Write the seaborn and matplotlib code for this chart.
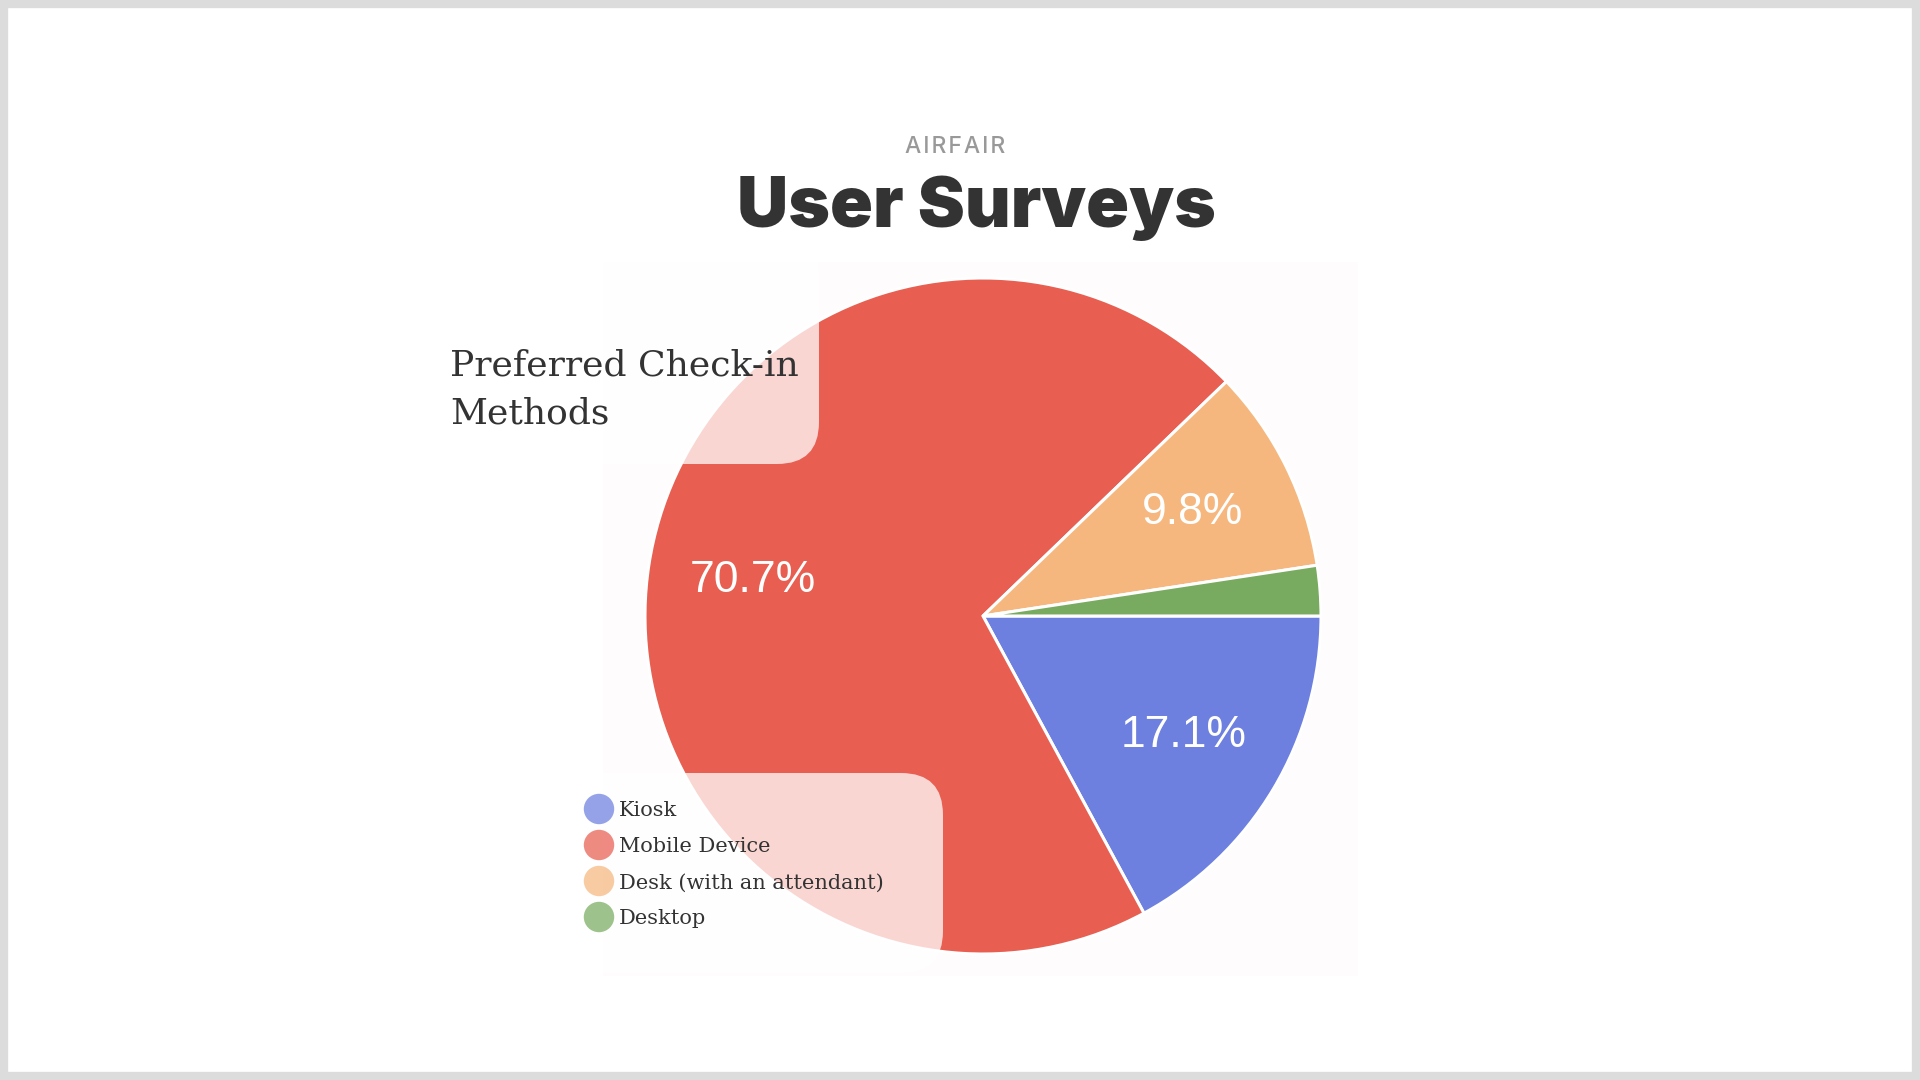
import matplotlib
matplotlib.use("Agg")
import matplotlib.pyplot as plt
import seaborn as sns
from matplotlib.patches import FancyBboxPatch, Rectangle

# data
methods = ["Kiosk", "Mobile Device", "Desk (with an attendant)", "Desktop"]
shares = [17.1, 70.7, 9.8, 2.4]
colors = ["#6d7fdf", "#e85e51", "#f6b77f", "#78ab5f"]

sns.set_theme(style="white")
plt.rcParams['font.family'] = ['DejaVu Sans']

W, H = 1920, 1080
fig = plt.figure(figsize=(19.2, 10.8), dpi=100)
fig.patch.set_facecolor("white")

# pie axes: centre (983, 616), radius 338 px
cx, cy, r = 983, 616, 338
ax = fig.add_axes([(cx - r) / W, 1 - (cy + r) / H, 2 * r / W, 2 * r / H])
ax.set_zorder(1)
ax.patch.set_alpha(0)


def pct(p):
    return f"{p:.1f}%" if p >= 3 else ""


wedges, _, autotexts = ax.pie(
    shares, colors=colors, startangle=0, counterclock=False,
    autopct=pct, pctdistance=0.69, radius=1,
    wedgeprops=dict(edgecolor="white", linewidth=2.2),
    textprops=dict(color="white", fontsize=32, family="Liberation Sans"))
ax.set_xlim(-1, 1)
ax.set_ylim(-1, 1)
ax.set_aspect("equal")
ax.axis("off")

# background axes in pixel coordinates (below pie)
bg = fig.add_axes([0, 0, 1, 1])
bg.set_zorder(0)
bg.set_xlim(0, W)
bg.set_ylim(H, 0)
bg.axis("off")
bg.add_patch(Rectangle((603, 262), 755, 714, facecolor="#fefcfd", edgecolor="none"))

# overlay axes (above pie)
top = fig.add_axes([0, 0, 1, 1])
top.set_zorder(2)
top.patch.set_alpha(0)
top.set_xlim(0, W)
top.set_ylim(H, 0)
top.axis("off")

# page border
top.add_patch(Rectangle((4, 4), W - 8, H - 8, facecolor="none",
                        edgecolor="#dcdcdc", linewidth=6))

# translucent boxes behind chart title and legend
top.add_patch(FancyBboxPatch((420, 230), 399, 234,
                             boxstyle="round,pad=0,rounding_size=42",
                             facecolor="white", alpha=0.75, edgecolor="none"))
top.add_patch(FancyBboxPatch((560, 773), 383, 200,
                             boxstyle="round,pad=0,rounding_size=42",
                             facecolor="white", alpha=0.75, edgecolor="none"))

# headings
top.text(955, 153, "A I R F A I R".replace(" ", "\u200a"), ha="center", va="baseline",
         fontsize=16.5, color="#999999", family=["Inter", "DejaVu Sans"],
         fontweight="medium")
top.text(976, 227, "User Surveys", ha="center", va="baseline", fontsize=51,
         color="#333333", family="Inter", fontweight="black")
top.text(450, 375, "Preferred Check-in", ha="left", va="baseline", fontsize=26,
         color="#333333", family="DejaVu Serif")
top.text(450, 423, "Methods", ha="left", va="baseline", fontsize=26,
         color="#333333", family="DejaVu Serif")

# legend
leg_y = [809, 845, 881, 917]
for name, c, y in zip(methods, colors, leg_y):
    top.scatter([599], [y], s=480, color=c, alpha=0.72, edgecolors="none")
    top.text(619, y + 2, name, ha="left", va="center", fontsize=15,
             color="#333333", family="DejaVu Serif")

fig.savefig("out.png", dpi=100, facecolor="white")
